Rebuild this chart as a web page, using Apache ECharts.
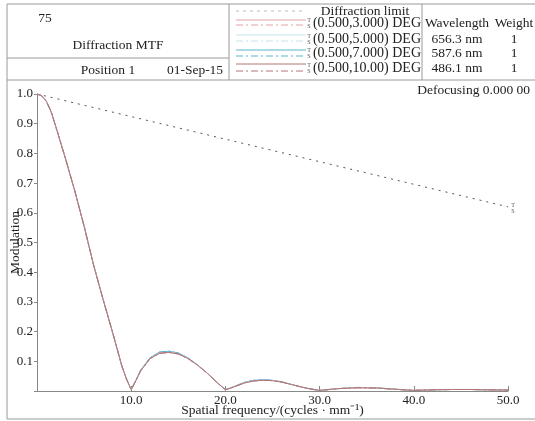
<!DOCTYPE html>
<html>
<head>
<meta charset="utf-8">
<script src="https://cdn.jsdelivr.net/npm/echarts@6/dist/echarts.min.js"></script>
<style>
  html, body { margin: 0; padding: 0; background: #fff; }
  #chart { width: 535px; height: 421px; }
</style>
</head>
<body>
<div id="chart"></div>
<script>
// spatial frequency samples (cycles/mm)
var freq = [0, 0.5, 1, 1.5, 2, 3, 4, 5, 6, 7, 8, 9, 9.5, 10, 10.5, 11, 12, 13, 14, 15, 16, 17, 18, 19, 20,
            21, 22, 23, 24, 25, 26, 27, 28, 29, 30, 32, 34, 36, 38, 40, 42, 44, 46, 48, 50];
// MTF (fields 3, 5, 10 deg, T and S overlap)
var mtfMain = [1.0, 0.994, 0.975, 0.94, 0.89, 0.785, 0.675, 0.555, 0.425, 0.31, 0.2, 0.085, 0.04, 0.005, 0.035, 0.068,
               0.109, 0.127, 0.13, 0.125, 0.11, 0.088, 0.062, 0.032, 0.004,
               0.015, 0.027, 0.034, 0.036, 0.035, 0.03, 0.022, 0.014, 0.007, 0.002, 0.008, 0.011, 0.01, 0.006, 0.002,
               0.004, 0.005, 0.005, 0.004, 0.003];
// 7 deg field, a touch higher on the side lobes
var mtfField7 = [1.0, 0.994, 0.975, 0.94, 0.89, 0.785, 0.675, 0.555, 0.425, 0.31, 0.2, 0.085, 0.04, 0.005, 0.036, 0.07,
                 0.112, 0.131, 0.134, 0.128, 0.112, 0.089, 0.062, 0.032, 0.004,
                 0.016, 0.029, 0.036, 0.038, 0.036, 0.031, 0.022, 0.014, 0.007, 0.002, 0.008, 0.012, 0.011, 0.006, 0.002,
                 0.004, 0.005, 0.005, 0.004, 0.003];
var diffFreq = [0, 10, 20, 30, 40, 50];
var diffLimit = [1.0, 0.924, 0.848, 0.772, 0.696, 0.62];

var fields = ['(0.500,3.000) DEG', '(0.500,5.000) DEG', '(0.500,7.000) DEG', '(0.500,10.00) DEG'];
var wavelengths = ['656.3 nm', '587.6 nm', '486.1 nm'];
var weights = ['1', '1', '1'];
var fieldColors = ['#e2a4a4', '#c6e3ec', '#5db2d2', '#b27777'];

var serif = 'Liberation Serif, Times New Roman, serif';
var dashDot = [7, 3, 2, 3];

function pairs(xs, ys) {
  return xs.map(function (x, i) { return [x, ys[i]]; });
}

var series = [{
  name: 'Diffraction limit',
  type: 'line',
  symbol: 'none',
  data: pairs(diffFreq, diffLimit),
  lineStyle: { color: '#555', width: 1, type: [2, 5] },
  z: 1
}];
// 7 deg drawn first so the others sit on top
var order = [2, 0, 1, 3];
order.forEach(function (k) {
  var d = k === 2 ? mtfField7 : mtfMain;
  series.push({
    name: fields[k] + ' T', type: 'line', symbol: 'none', data: pairs(freq, d),
    lineStyle: { color: fieldColors[k], width: 1 }, z: 2
  });
  series.push({
    name: fields[k] + ' S', type: 'line', symbol: 'none', data: pairs(freq, d),
    lineStyle: { color: fieldColors[k], width: 1, type: dashDot }, z: 2
  });
});

var frame = '#9a9a9a';
function hline(x1, x2, y, color, type) {
  return { type: 'line', shape: { x1: x1, y1: y, x2: x2, y2: y },
           style: { stroke: color || frame, lineWidth: 1, lineDash: type || null } };
}
function vline(x, y1, y2) {
  return { type: 'line', shape: { x1: x, y1: y1, x2: x, y2: y2 }, style: { stroke: frame, lineWidth: 1 } };
}
function txt(x, y, s, align, size) {
  return { type: 'text', x: x, y: y,
           style: { text: s, font: (size || 13.5) + 'px ' + serif, fill: '#222',
                    align: align || 'center', verticalAlign: 'middle' } };
}
function ts(x, y) {
  return [
    { type: 'text', x: x, y: y - 3, style: { text: 'T', font: '6px ' + serif, fill: '#555', align: 'center', verticalAlign: 'middle' } },
    { type: 'text', x: x, y: y + 3, style: { text: 'S', font: '6px ' + serif, fill: '#555', align: 'center', verticalAlign: 'middle' } }
  ];
}

var graphics = [
  hline(7, 535, 4), hline(7, 535, 80), hline(7, 535, 419), hline(7, 229, 58),
  vline(7, 4, 419), vline(229, 4, 80), vline(422, 4, 80),
  txt(45, 18, '75'),
  txt(118, 45, 'Diffraction MTF'),
  txt(108, 70, 'Position 1'),
  txt(195, 70, '01-Sep-15'),
  txt(365, 11, 'Diffraction limit'),
  txt(457, 23, 'Wavelength'),
  txt(514, 23, 'Weight'),
  txt(530, 90, 'Defocusing 0.000 00', 'right'),
  hline(236, 306, 11, '#bbbbbb', [3, 4])
];
var rowY = [23, 39, 53, 68];
var lineY = [[20, 25], [35, 41], [50, 56], [64, 71]];
fields.forEach(function (f, i) {
  graphics.push(hline(236, 306, lineY[i][0], fieldColors[i]));
  graphics.push(hline(236, 306, lineY[i][1], fieldColors[i], dashDot));
  graphics.push(txt(421, rowY[i], f, 'right', 14));
  graphics = graphics.concat(ts(309, rowY[i]));
});
wavelengths.forEach(function (w, i) {
  graphics.push(txt(457, rowY[i + 1], w));
  graphics.push(txt(514, rowY[i + 1], weights[i]));
});

var option = {
  animation: false,
  backgroundColor: '#fff',
  grid: { left: 37, right: 27, top: 94, bottom: 30, containLabel: false, outerBoundsMode: 'none' },
  xAxis: {
    type: 'value', min: 0, max: 50, interval: 10,
    name: 'Spatial frequency/(cycles · mm⁻¹)',
    nameLocation: 'middle', nameGap: 12, nameMoveOverlap: false,
    nameTextStyle: { fontFamily: serif, fontSize: 13.5, color: '#222' },
    axisLine: { lineStyle: { color: '#888' } },
    axisTick: { inside: true, length: 5, lineStyle: { color: '#888' } },
    axisLabel: { margin: 3, fontFamily: serif, fontSize: 13, color: '#222',
                 formatter: function (v) { return v === 0 ? '' : v.toFixed(1); } },
    splitLine: { show: false }
  },
  yAxis: {
    type: 'value', min: 0, max: 1, interval: 0.1,
    name: 'Modulation',
    nameLocation: 'middle', nameGap: 15, nameMoveOverlap: false,
    nameTextStyle: { fontFamily: serif, fontSize: 13.5, color: '#222' },
    axisLine: { show: true, lineStyle: { color: '#888' } },
    axisTick: { show: true, length: 3, lineStyle: { color: '#888' } },
    axisLabel: { margin: 4, fontFamily: serif, fontSize: 13, color: '#222',
                 formatter: function (v) { return v === 0 ? '' : v.toFixed(1); } },
    splitLine: { show: false }
  },
  series: series,
  graphic: graphics
};

var chart = echarts.init(document.getElementById('chart'));
chart.setOption(option);

// T/S marker at the end of the diffraction limit line
var endPt = chart.convertToPixel({ gridIndex: 0 }, [diffFreq[diffFreq.length - 1], diffLimit[diffLimit.length - 1]]);
chart.setOption({ graphic: graphics.concat(ts(endPt[0] + 5, endPt[1] + 2)) });
</script>
</body>
</html>
